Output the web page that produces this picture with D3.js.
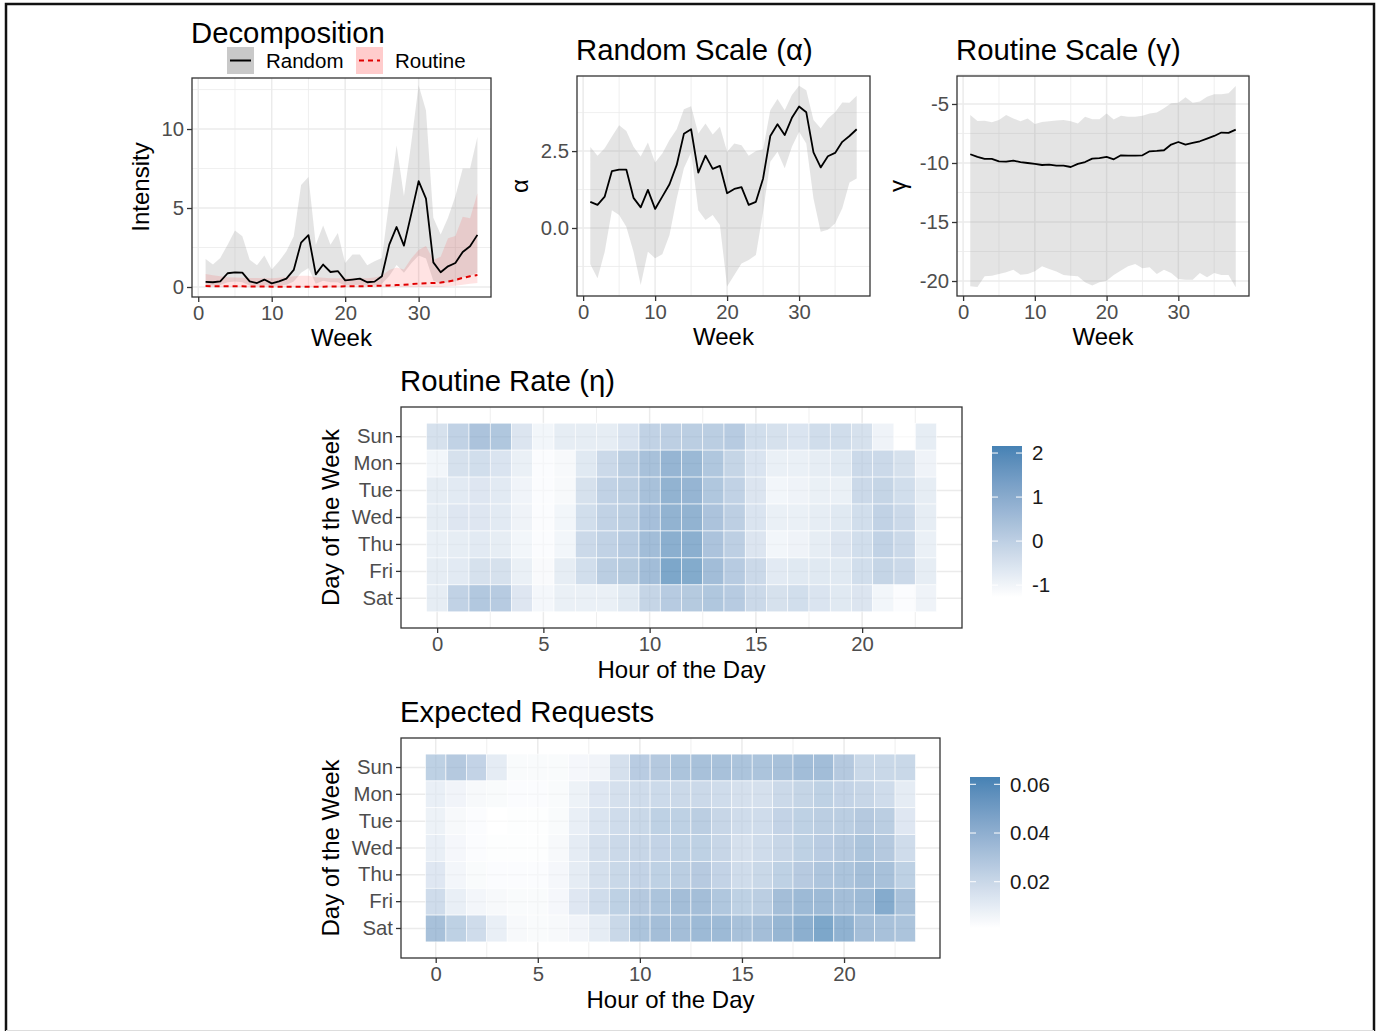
<!DOCTYPE html>
<html>
<head>
<meta charset="utf-8">
<script src="https://cdn.jsdelivr.net/npm/d3@7"></script>
<style>
body { margin: 0; background: #fff; }
text { font-family: "Liberation Sans", Arial, sans-serif; }
</style>
</head>
<body>
<div id="chart"></div>
<script>
// ---- data ----
const weeks = [1,2,3,4,5,6,7,8,9,10,11,12,13,14,15,16,17,18,19,20,21,22,23,24,25,26,27,28,29,30,31,32,33,34,35,36,37,38];

const randomMean = [0.32,0.30,0.36,0.87,0.93,0.91,0.36,0.25,0.47,0.23,0.36,0.53,1.08,2.81,3.28,0.80,1.42,0.95,1.01,0.42,0.47,0.53,0.30,0.34,0.68,2.68,3.80,2.62,4.63,6.70,5.60,1.56,0.93,1.31,1.52,2.22,2.58,3.30];
const randomHigh = [1.78,1.42,1.84,2.68,3.57,3.21,1.73,1.37,2.00,1.10,1.63,2.26,3.21,6.45,6.96,2.68,3.89,2.68,3.42,1.52,2.05,2.05,1.37,1.63,1.84,5.43,8.96,5.75,9.13,12.77,11.18,4.38,3.32,4.38,5.75,7.50,7.50,9.49];
const randomLow = [0.10,0.10,0.12,0.30,0.35,0.30,0.10,0.08,0.12,0.06,0.10,0.15,0.35,0.90,1.20,0.20,0.40,0.30,0.30,0.10,0.12,0.15,0.08,0.10,0.20,0.70,1.40,0.90,1.50,2.00,1.80,0.40,0.20,0.30,0.35,0.60,0.70,0.90];

const routineMean = [0.06,0.05,0.05,0.04,0.04,0.04,0.03,0.03,0.03,0.02,0.02,0.02,0.02,0.02,0.02,0.02,0.02,0.03,0.03,0.04,0.05,0.05,0.06,0.07,0.08,0.10,0.12,0.14,0.18,0.22,0.24,0.25,0.28,0.35,0.44,0.58,0.68,0.76];
const routineHigh = [0.82,0.75,0.68,0.62,0.60,0.58,0.57,0.57,0.56,0.56,0.58,0.62,0.68,0.72,0.72,0.62,0.58,0.56,0.55,0.55,0.55,0.55,0.56,0.60,0.72,1.08,1.24,1.10,1.81,2.34,2.60,1.71,1.92,3.08,3.23,4.45,4.35,5.93];
const routineLow = [0,0,0,0,0,0,0,0,0,0,0,0,0,0,0,0,0,0,0,0,0,0,0,0,0,0,0,0,0,0,0,0,0,0.05,0.08,0.15,0.20,0.25];

const alphaMean = [0.85,0.75,1.02,1.85,1.90,1.90,0.98,0.67,1.24,0.62,1.02,1.42,2.05,3.06,3.21,1.80,2.35,1.92,2.02,1.13,1.27,1.33,0.75,0.85,1.61,2.99,3.37,3.02,3.58,3.95,3.76,2.46,1.97,2.33,2.44,2.80,2.99,3.21];
const alphaHigh = [2.63,2.35,2.59,2.97,3.34,3.15,2.64,2.32,2.78,2.13,2.42,2.86,3.21,3.86,3.96,3.07,3.40,3.04,3.29,2.48,2.75,2.69,2.35,2.50,2.56,3.83,4.19,3.83,4.32,4.62,4.48,3.51,3.24,3.56,3.76,4.08,4.07,4.30];
const alphaLow = [-1.18,-1.63,-0.77,0.58,0.42,0.04,-0.77,-1.85,-0.77,-0.98,-0.85,-0.23,0.96,1.94,2.45,0.58,0.26,0.42,0.10,-1.90,-1.53,-1.15,-1.04,-0.88,0.53,2.15,2.48,1.94,2.64,3.13,2.75,0.96,-0.12,-0.06,0.15,0.64,1.48,1.61];

const gammaMean = [-9.26,-9.49,-9.66,-9.66,-9.86,-9.89,-9.80,-9.92,-10.00,-10.08,-10.17,-10.14,-10.23,-10.23,-10.34,-10.08,-9.92,-9.63,-9.58,-9.49,-9.69,-9.35,-9.38,-9.38,-9.35,-9.01,-8.98,-8.92,-8.44,-8.22,-8.44,-8.30,-8.16,-7.93,-7.71,-7.42,-7.45,-7.17];
const gammaHigh = [-5.93,-6.44,-6.43,-6.55,-6.35,-5.93,-6.23,-6.47,-6.23,-6.69,-6.52,-6.46,-6.40,-6.35,-6.46,-6.66,-6.09,-6.29,-6.29,-5.81,-6.32,-6.00,-6.09,-6.09,-6.00,-5.81,-5.72,-5.37,-4.94,-4.89,-4.43,-4.89,-4.80,-4.38,-4.18,-4.18,-4.10,-3.47];
const gammaLow = [-20.45,-20.50,-19.60,-19.55,-19.40,-19.26,-19.04,-19.46,-19.40,-19.18,-18.75,-18.98,-19.20,-19.49,-19.55,-19.60,-20.10,-20.39,-20.10,-19.97,-19.49,-19.12,-18.75,-18.56,-18.92,-18.84,-19.40,-19.04,-19.32,-19.83,-19.89,-19.89,-19.32,-19.69,-19.32,-19.49,-19.49,-20.53];

const days = ["Sun","Mon","Tue","Wed","Thu","Fri","Sat"];
const hours = [0,1,2,3,4,5,6,7,8,9,10,11,12,13,14,15,16,17,18,19,20,21,22,23];

// routine rate eta, one row per day, one value per hour
const etaRates = [
  [-0.14,0.43,1.00,0.88,-0.31,-0.93,-0.59,-0.59,-0.59,-0.25,0.43,0.54,0.60,0.60,0.71,-0.02,-0.14,-0.25,0.03,0.03,-0.14,-0.82,-1.27,-0.59],
  [-0.93,-0.14,-0.02,-0.25,-0.70,-1.16,-1.04,-0.42,0.15,0.60,1.11,1.57,1.45,0.88,0.32,-0.25,-0.70,-0.70,-0.59,-0.42,0.15,0.15,-0.14,-0.82],
  [-0.59,-0.48,-0.36,-0.48,-0.87,-1.16,-1.04,-0.14,0.43,0.60,1.11,1.68,1.57,0.88,0.43,-0.31,-0.93,-0.82,-0.70,-0.70,0.15,0.32,-0.02,-0.59],
  [-0.59,-0.36,-0.36,-0.48,-0.82,-1.16,-0.93,-0.02,0.43,0.60,1.17,1.68,1.68,1.00,0.54,-0.25,-0.70,-0.70,-0.59,-0.42,-0.02,0.43,0.15,-0.59],
  [-0.70,-0.59,-0.48,-0.59,-0.93,-1.16,-0.93,0.15,0.43,0.71,1.28,1.85,1.85,1.00,0.54,-0.31,-0.93,-0.82,-0.59,-0.31,-0.02,0.43,0.15,-0.70],
  [-0.59,-0.48,-0.14,-0.14,-0.70,-1.10,-0.59,-0.02,0.60,0.77,1.28,2.16,2.02,1.28,0.71,0.15,-0.48,-0.42,-0.42,-0.42,-0.02,0.32,0.15,-0.59],
  [-0.59,0.43,0.83,0.71,-0.36,-0.99,-0.70,-0.70,-0.70,-0.42,0.32,0.71,0.77,0.88,0.71,0.15,-0.14,-0.02,-0.25,-0.42,-0.31,-0.93,-1.16,-0.82]
];

// expected requests, one row per day
const expectedRequests = [
  [0.033,0.038,0.031,0.014,0.004,0.004,0.004,0.006,0.008,0.022,0.036,0.038,0.042,0.044,0.044,0.042,0.042,0.044,0.047,0.047,0.038,0.028,0.028,0.028],
  [0.012,0.008,0.005,0.004,0.003,0.003,0.004,0.010,0.017,0.022,0.025,0.026,0.027,0.027,0.025,0.022,0.022,0.027,0.030,0.033,0.031,0.029,0.025,0.014],
  [0.010,0.005,0.003,0.001,0.002,0.002,0.004,0.012,0.019,0.025,0.028,0.033,0.033,0.035,0.029,0.025,0.025,0.031,0.033,0.035,0.035,0.038,0.035,0.017],
  [0.012,0.006,0.003,0.002,0.002,0.002,0.005,0.014,0.022,0.027,0.029,0.031,0.033,0.033,0.029,0.022,0.025,0.029,0.033,0.036,0.038,0.042,0.038,0.025],
  [0.017,0.007,0.004,0.003,0.003,0.003,0.006,0.014,0.022,0.028,0.031,0.033,0.035,0.037,0.031,0.025,0.028,0.033,0.037,0.041,0.042,0.046,0.044,0.033],
  [0.025,0.012,0.007,0.005,0.004,0.004,0.006,0.017,0.025,0.033,0.038,0.042,0.046,0.046,0.040,0.033,0.035,0.046,0.049,0.049,0.046,0.049,0.060,0.044],
  [0.044,0.033,0.025,0.012,0.005,0.004,0.005,0.008,0.014,0.028,0.042,0.046,0.046,0.049,0.049,0.044,0.046,0.052,0.057,0.063,0.055,0.046,0.044,0.042]
];

const weekTicks = [0,10,20,30];
const weekMinor = [5,15,25,35];
const hourTicks = [0,5,10,15,20];
const hourMinor = [2.5,7.5,12.5,17.5,22.5];
const etaBreaks = [-1,0,1,2];
const reqBreaks = [0.02,0.04,0.06];

// ---- drawing ----
const svg = d3.select('#chart').append('svg')
    .attr('width', 1378).attr('height', 1031);

const tickCol = '#4d4d4d', darkCol = '#333333', gridCol = '#ebebeb';
const titleSize = 29.3;

// outer frame
svg.append('path').attr('d', 'M6,1040 V4 H1374 V1040')
    .attr('fill', 'none').attr('stroke', '#111').attr('stroke-width', 2.5);
svg.append('line').attr('x1', 6).attr('x2', 1374).attr('y1', 1030.5).attr('y2', 1030.5)
    .attr('stroke', '#dddddd').attr('stroke-width', 1);

function grid(g, x, y, xMajor, xMinor, yMajor, yMinor) {
    const [xa, xb] = x.range();
    const [ya, yb] = y.range();
    const lines = [];
    xMinor.forEach(d => lines.push({x1: x(d), x2: x(d), y1: ya, y2: yb, w: 0.8}));
    yMinor.forEach(d => lines.push({x1: xa, x2: xb, y1: y(d), y2: y(d), w: 0.8}));
    xMajor.forEach(d => lines.push({x1: x(d), x2: x(d), y1: ya, y2: yb, w: 1.5}));
    yMajor.forEach(d => lines.push({x1: xa, x2: xb, y1: y(d), y2: y(d), w: 1.5}));
    g.selectAll('.grid').data(lines).enter().append('line')
        .attr('class', 'grid')
        .attr('x1', d => d.x1).attr('x2', d => d.x2)
        .attr('y1', d => d.y1).attr('y2', d => d.y2)
        .attr('stroke', gridCol).attr('stroke-width', d => d.w);
}

function border(g, x, y) {
    const [xa, xb] = x.range();
    const [ya, yb] = y.range();
    g.append('rect')
        .attr('x', Math.min(xa, xb)).attr('y', Math.min(ya, yb))
        .attr('width', Math.abs(xb - xa)).attr('height', Math.abs(yb - ya))
        .attr('fill', 'none').attr('stroke', darkCol).attr('stroke-width', 1.3);
}

function styleAxis(sel) {
    sel.select('.domain').remove();
    sel.selectAll('.tick line').attr('stroke', darkCol).attr('stroke-width', 1.3);
    sel.selectAll('.tick text').attr('fill', tickCol).attr('font-size', 20.3)
        .attr('font-family', '"Liberation Sans", Arial, sans-serif');
}

function axes(g, x, y, xTicks, yTicks, yFmt, bottomY, leftX) {
    g.append('g').attr('transform', `translate(0,${bottomY})`)
        .call(d3.axisBottom(x).tickValues(xTicks).tickSize(5).tickPadding(4).tickFormat(d => String(d)))
        .call(styleAxis);
    const ax = d3.axisLeft(y).tickSize(5).tickPadding(3);
    if (yTicks) ax.tickValues(yTicks);
    if (yFmt) ax.tickFormat(yFmt);
    g.append('g').attr('transform', `translate(${leftX},0)`)
        .call(ax).call(styleAxis);
}

function label(g, txt, x, y, size, opts) {
    const t = g.append('text').attr('x', x).attr('y', y)
        .attr('font-size', size).attr('fill', '#000').text(txt);
    if (opts && opts.anchor) t.attr('text-anchor', opts.anchor);
    if (opts && opts.rotate) {
        t.attr('x', 0).attr('y', 0)
         .attr('transform', `translate(${x},${y}) rotate(-90)`);
    }
    return t;
}

// weekly panel with ribbon(s) and line(s)
function weekPanel(box, yDomain, yMajor, yMinor, yFmt, layers) {
    const g = svg.append('g');
    const x = d3.scaleLinear().domain([-0.85, 39.85]).range([box.l, box.r]);
    const y = d3.scaleLinear().domain(yDomain).range([box.b, box.t]);
    grid(g, x, y, weekTicks, weekMinor, yMajor, yMinor);

    const rows = weeks.map((w, i) => ({w: w, i: i}));
    layers.forEach(L => {
        const area = d3.area()
            .x(d => x(d.w))
            .y0(d => y(L.low[d.i]))
            .y1(d => y(L.high[d.i]));
        g.append('path').datum(rows)
            .attr('d', area)
            .attr('fill', L.fill).attr('fill-opacity', L.opacity);
    });
    layers.forEach(L => {
        const line = d3.line().x(d => x(d.w)).y(d => y(L.mean[d.i]));
        g.append('path').datum(rows)
            .attr('d', line)
            .attr('fill', 'none')
            .attr('stroke', L.stroke).attr('stroke-width', L.width)
            .attr('stroke-dasharray', L.dash || null)
            .attr('stroke-linejoin', 'round');
    });
    border(g, x, y);
    axes(g, x, y, weekTicks, yMajor, yFmt, box.b, box.l);
    label(g, 'Week', (box.l + box.r) / 2, box.b + 49, 24, {anchor: 'middle'});
    return g;
}

// Decomposition
const gDec = weekPanel({l: 192, r: 491, t: 78, b: 297}, [-0.633, 13.23], [0, 5, 10], [2.5, 7.5, 12.5],
    d => String(d), [
    {low: randomLow, high: randomHigh, mean: randomMean, fill: '#9a9a9a', opacity: 0.27, stroke: '#000', width: 1.8},
    {low: routineLow, high: routineHigh, mean: routineMean, fill: '#ff2a2a', opacity: 0.13, stroke: '#e00000', width: 2, dash: '5,4'}
]);
label(gDec, 'Decomposition', 191, 43, titleSize);
label(gDec, 'Intensity', 149, 187, 24, {anchor: 'middle', rotate: true});
// legend
const legItems = [
    {name: 'Random', x: 227, fill: '#c9c9c9', stroke: '#000', dash: null},
    {name: 'Routine', x: 356, fill: '#ffcccc', stroke: '#e00000', dash: '5,4'}
];
legItems.forEach(it => {
    gDec.append('rect').attr('x', it.x).attr('y', 47).attr('width', 27).attr('height', 27)
        .attr('fill', it.fill);
    gDec.append('line').attr('x1', it.x + 3).attr('x2', it.x + 24)
        .attr('y1', 60.5).attr('y2', 60.5)
        .attr('stroke', it.stroke).attr('stroke-width', 2)
        .attr('stroke-dasharray', it.dash);
    label(gDec, it.name, it.x + 39, 68, 20.5);
});

// Random Scale (alpha)
const gAlpha = weekPanel({l: 577, r: 870, t: 76, b: 296}, [-2.21, 4.94], [0, 2.5], [-1.25, 1.25, 3.75],
    d => d.toFixed(1), [
    {low: alphaLow, high: alphaHigh, mean: alphaMean, fill: '#9a9a9a', opacity: 0.27, stroke: '#000', width: 1.8}
]);
label(gAlpha, 'Random Scale (\u03b1)', 576, 60, titleSize);
label(gAlpha, '\u03b1', 528, 186, 24, {anchor: 'middle', rotate: true});

// Routine Scale (gamma)
const gGamma = weekPanel({l: 957, r: 1249, t: 76, b: 296}, [-21.27, -2.63], [-20, -15, -10, -5], [-17.5, -12.5, -7.5, -2.5],
    d => String(d), [
    {low: gammaLow, high: gammaHigh, mean: gammaMean, fill: '#9a9a9a', opacity: 0.27, stroke: '#000', width: 1.8}
]);
label(gGamma, 'Routine Scale (\u03b3)', 956, 60, titleSize);
label(gGamma, '\u03b3', 906, 186, 24, {anchor: 'middle', rotate: true});

// heatmap panel
let gradId = 0;
function heatPanel(box, values, breaks, fmt, title, legend) {
    const g = svg.append('g');
    const x = d3.scaleLinear().domain([-1.7, 24.7]).range([box.l, box.r]);
    const y = d3.scaleBand().domain(days).range([box.t, box.b]).paddingInner(0).paddingOuter(0.6);
    const yc = d => y(d) + y.bandwidth() / 2;
    const flat = [];
    values.forEach((row, r) => row.forEach((v, h) => flat.push({day: days[r], hour: hours[h], v: v})));
    const ext = d3.extent(flat, d => d.v);
    const color = d3.scaleSequential(d3.interpolateLab('#ffffff', 'steelblue')).domain(ext);

    // grid (band centers for days)
    const yLin = d3.scaleLinear().domain([0, 1]).range([box.b, box.t]);
    grid(g, x, yLin, hourTicks, hourMinor, [], []);
    g.selectAll('.hgrid').data(days).enter().append('line')
        .attr('x1', box.l).attr('x2', box.r)
        .attr('y1', d => yc(d)).attr('y2', d => yc(d))
        .attr('stroke', gridCol).attr('stroke-width', 1.5);

    g.selectAll('.tile').data(flat).enter().append('rect')
        .attr('x', d => x(d.hour - 0.5))
        .attr('y', d => y(d.day))
        .attr('width', d => x(d.hour + 0.5) - x(d.hour - 0.5))
        .attr('height', y.bandwidth())
        .attr('fill', d => color(d.v))
        .attr('fill-opacity', 0.7)
        .attr('stroke', '#ffffff').attr('stroke-width', 0.6);

    border(g, x, yLin);
    g.append('g').attr('transform', `translate(0,${box.b})`)
        .call(d3.axisBottom(x).tickValues(hourTicks).tickSize(5).tickPadding(4).tickFormat(d => String(d)))
        .call(styleAxis);
    g.append('g').attr('transform', `translate(${box.l},0)`)
        .call(d3.axisLeft(y).tickSize(5).tickPadding(3))
        .call(styleAxis);

    label(g, title, 400, box.t - 16, titleSize);
    label(g, 'Hour of the Day', (box.l + box.r) / 2, box.b + 50, 24, {anchor: 'middle'});
    label(g, 'Day of the Week', 339, (box.t + box.b) / 2, 24, {anchor: 'middle', rotate: true});

    // colourbar
    const id = 'grad' + (gradId++);
    const grad = svg.append('defs').append('linearGradient').attr('id', id)
        .attr('x1', 0).attr('y1', 1).attr('x2', 0).attr('y2', 0);
    d3.range(0, 1.0001, 0.05).forEach(t => {
        grad.append('stop').attr('offset', t)
            .attr('stop-color', color(ext[0] + t * (ext[1] - ext[0])));
    });
    const cy = d3.scaleLinear().domain(ext).range([legend.b, legend.t]);
    g.append('rect').attr('x', legend.l).attr('y', legend.t)
        .attr('width', 30).attr('height', legend.b - legend.t)
        .attr('fill', `url(#${id})`);
    breaks.forEach(b => {
        [[legend.l, legend.l + 6], [legend.l + 24, legend.l + 30]].forEach(s => {
            g.append('line').attr('x1', s[0]).attr('x2', s[1])
                .attr('y1', cy(b)).attr('y2', cy(b))
                .attr('stroke', '#fff').attr('stroke-width', 1);
        });
        g.append('text').attr('x', legend.l + 40).attr('y', cy(b)).attr('dy', '0.36em')
            .attr('font-size', 20.5).attr('fill', '#1a1a1a').text(fmt(b));
    });
}

heatPanel({l: 401, r: 962, t: 407, b: 628}, etaRates, etaBreaks, d => String(d),
    'Routine Rate (\u03b7)', {l: 992, t: 446, b: 597});
heatPanel({l: 401, r: 940, t: 738, b: 958}, expectedRequests, reqBreaks, d => d.toFixed(2),
    'Expected Requests', {l: 970, t: 777, b: 928});
</script>
</body>
</html>
